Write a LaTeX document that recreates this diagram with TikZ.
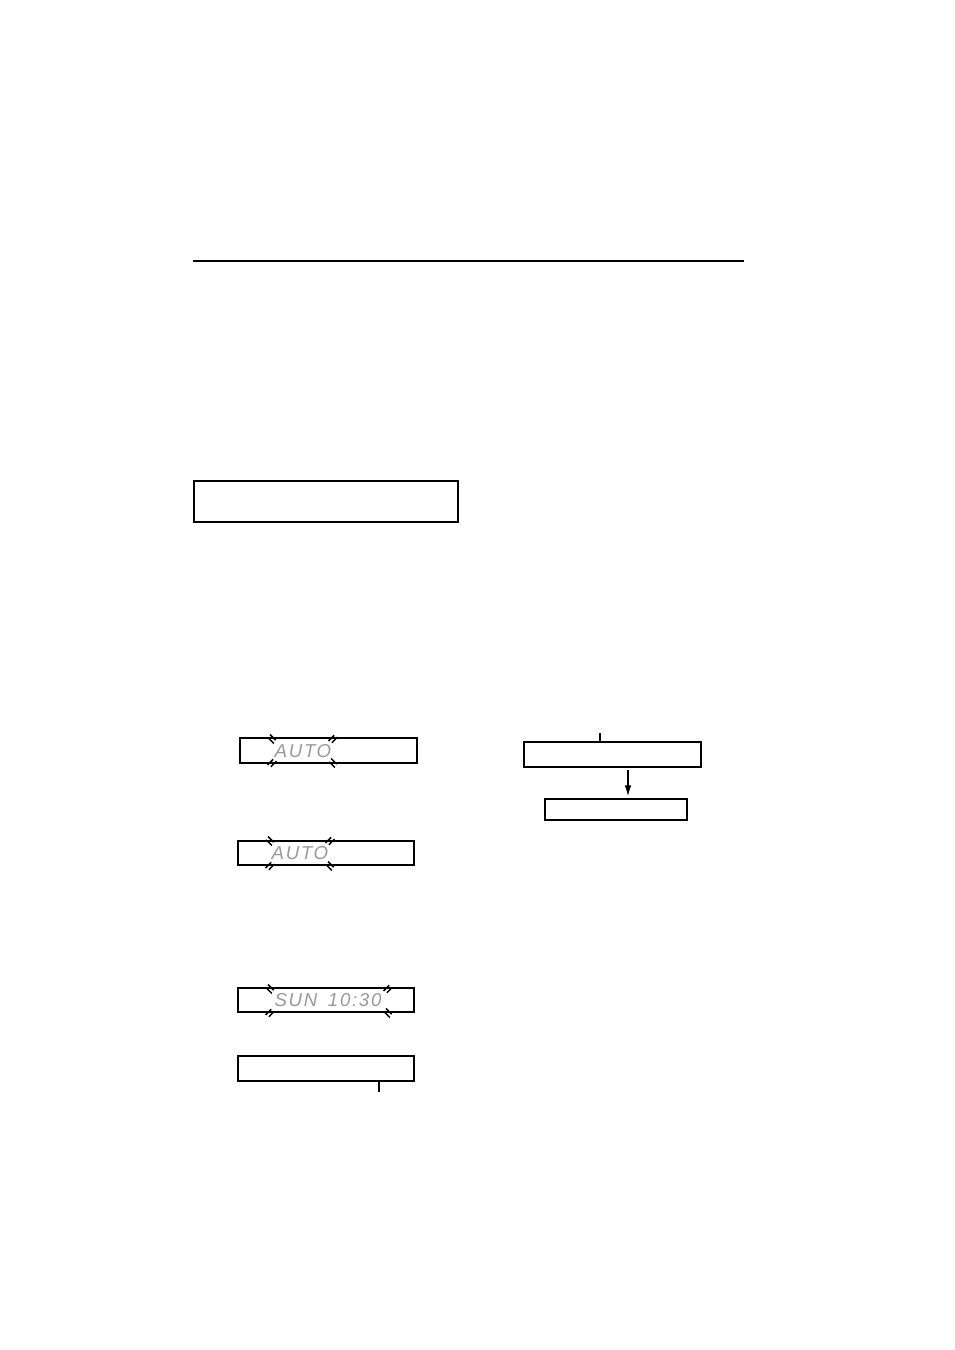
\documentclass[tikz,border=0pt]{standalone}
\usepackage{fontspec}
\setsansfont{Liberation Sans}
\usetikzlibrary{arrows,arrows.meta,positioning}
\tikzset{>=latex}
\tikzset{
  lcd/.style={draw=black, line width=0.8pt, inner sep=0pt},
  lcdtext/.style={text=black!40, font=\sffamily\itshape\fontsize{14}{14}\selectfont\addfontfeatures{LetterSpace=9}, inner sep=0pt},
  blink/.pic={\draw[line width=1.1pt] (-4.5,-1.8) -- (3.5,-1.8) (-3.5,1.8) -- (4.5,1.8);}
}

\begin{document}
\begin{tikzpicture}[x=0.75pt,y=-0.75pt]
        \useasboundingbox (0,0) rectangle (954,1350);
        \draw[line width=1pt] (193,261) -- (744,261);
        \node[lcd, minimum width=198pt, minimum height=30.75pt] (note) at (326,501.5) {};
        % left column displays
        \node[lcd, minimum width=132.75pt, minimum height=18.75pt] (disp1) at (328.5,750.5) {};
        \node[lcdtext] (auto1) at (303,751) {AUTO};
        \pic[rotate=-45] at (272,739) {blink};
        \pic[rotate=45] at (333,739) {blink};
        \pic[rotate=45] at (272,763) {blink};
        \pic[rotate=-45] at (333,763) {blink};
        \node[lcd, minimum width=132pt, minimum height=18pt] (disp2) at (326,853) {};
        \node[lcdtext] (auto2) at (300,853.5) {AUTO};
        \pic[rotate=-45] at (270,841) {blink};
        \pic[rotate=45] at (330,841) {blink};
        \pic[rotate=45] at (270,866) {blink};
        \pic[rotate=-45] at (330,866) {blink};
        \node[lcd, minimum width=132pt, minimum height=18pt] (disp3) at (326,1000) {};
        \node[lcdtext] (clock) at (328,1000.5) {SUN\hspace{8pt}10:30};
        \pic[rotate=-45] at (270,989) {blink};
        \pic[rotate=45] at (388,989) {blink};
        \pic[rotate=45] at (270,1013) {blink};
        \pic[rotate=-45] at (388,1013) {blink};
        \node[lcd, minimum width=132pt, minimum height=18.75pt] (disp4) at (326,1068.5) {};
        \coordinate (tick4) at (379,1092);
        \draw[line width=0.8pt] (disp4.south -| tick4) -- (tick4);
        % right column
        \node[lcd, minimum width=132.75pt, minimum height=18.75pt] (dispA) at (612.5,754.5) {};
        \coordinate (tickA) at (600,733);
        \draw[line width=0.8pt] (dispA.north -| tickA) -- (tickA);
        \node[lcd, line width=1.5pt, minimum width=106.5pt, minimum height=15.75pt] (dispB) at (616,809.5) {};
        \coordinate (arrowx) at (628,0);
        \draw[-{Latex[length=8pt,width=5pt]}, line width=0.8pt, shorten <=2pt, shorten >=1.5pt] (dispA.south -| arrowx) -- (dispB.north -| arrowx);
\end{tikzpicture}
\end{document}
